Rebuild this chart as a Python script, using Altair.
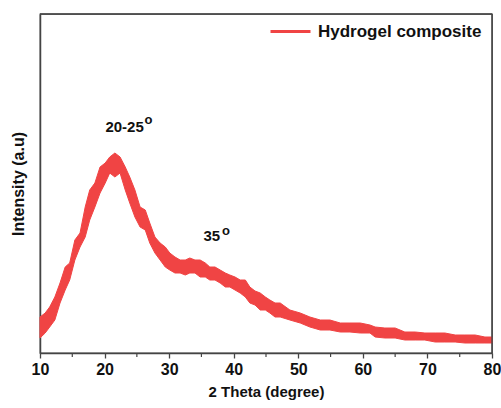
import altair as alt
import pandas as pd

# Values (2θ in degrees, intensity in arbitrary units,
# upper and lower edge of the noisy trace)
two_theta = [10.0, 10.8, 11.5, 12.3, 13.1, 13.9, 14.6, 15.4, 16.2, 17.0, 17.7, 18.5,
             19.3, 20.1, 20.8, 21.6, 22.4, 23.2, 23.9, 24.7, 25.5, 26.3, 27.0, 27.8,
             28.6, 29.4, 30.1, 30.9, 31.7, 32.5, 33.2, 34.0, 34.8, 35.6, 36.3, 37.1,
             37.9, 38.7, 39.4, 40.2, 41.0, 41.8, 42.5, 43.3, 44.1, 44.9, 45.6, 46.4,
             47.2, 48.7, 50.3, 51.8, 53.4, 54.9, 56.5, 58.0, 59.6, 61.1, 61.9, 63.4,
             65.0, 66.5, 68.1, 69.6, 71.2, 72.7, 74.3, 75.8, 77.4, 78.9, 80.0]
upper = [36, 40, 46, 56, 70, 86, 90, 113, 120, 146, 163, 170,
         186, 190, 196, 200, 196, 186, 176, 163, 146, 143, 130, 116,
         110, 106, 100, 96, 93, 93, 95, 93, 93, 90, 86, 86,
         83, 80, 78, 76, 73, 73, 66, 62, 60, 56, 53, 50,
         50, 43, 40, 36, 33, 33, 30, 30, 30, 28, 26, 25,
         25, 21, 21, 20, 20, 20, 18, 18, 18, 16, 16]
lower = [15, 20, 26, 33, 50, 63, 73, 93, 106, 116, 133, 146,
         160, 170, 180, 176, 180, 163, 150, 136, 126, 123, 110, 100,
         93, 86, 83, 80, 80, 78, 80, 80, 76, 76, 73, 73,
         70, 66, 66, 63, 60, 56, 50, 48, 43, 43, 40, 36,
         36, 33, 30, 26, 23, 23, 21, 21, 20, 20, 16, 15,
         15, 13, 13, 13, 11, 11, 11, 10, 10, 10, 10]
series_name = "Hydrogel composite"

major_ticks = [10, 20, 30, 40, 50, 60, 70, 80]
minor_ticks = [15, 25, 35, 45, 55, 65, 75]

ann_text = ["20-25", "o", "35", "o"]
ann_x = [23.1, 26.8, 36.6, 38.8]
ann_y = [226, 233, 117, 122]
ann_size = [15, 13, 15, 13]

RED = "#f04444"
FRAME = "#444"

df = pd.DataFrame({"two_theta": two_theta, "upper": upper, "lower": lower,
                   "series": series_name})
ann = pd.DataFrame({"text": ann_text, "x": ann_x, "y": ann_y, "size": ann_size})

xscale = alt.Scale(domain=[10, 80], nice=False, zero=False)
yscale = alt.Scale(domain=[0, 339], nice=False, zero=False)

band = alt.Chart(df).mark_area(strokeWidth=1.0, interpolate="linear").encode(
    x=alt.X("two_theta:Q", scale=xscale,
            axis=alt.Axis(title="2 Theta (degree)", values=major_ticks,
                          grid=False, tickSize=5, tickColor=FRAME, tickWidth=1.3,
                          domainColor=FRAME, domainWidth=1.5,
                          labelFont="Liberation Sans", labelFontWeight="bold",
                          labelFontSize=16, labelColor="#111", labelPadding=3,
                          labelFlush=False,
                          titleFont="Liberation Sans", titleFontWeight="bold",
                          titleFontSize=15, titleColor="#111", titlePadding=7)),
    y=alt.Y("upper:Q", scale=yscale,
            axis=alt.Axis(title="Intensity (a.u)", labels=False, ticks=False, grid=False,
                          domainColor=FRAME, domainWidth=1.5,
                          titleFont="Liberation Sans", titleFontWeight="bold",
                          titleFontSize=16, titleColor="#111", titlePadding=14)),
    y2="lower:Q",
    color=alt.Color("series:N", scale=alt.Scale(range=[RED]),
                    legend=alt.Legend(title=None, orient="none", legendX=229, legendY=-4,
                                      symbolType="stroke", symbolSize=1600,
                                      symbolStrokeWidth=3, symbolStrokeColor=RED,
                                      labelFont="Liberation Sans", labelFontWeight="bold",
                                      labelFontSize=17, labelColor="#111",
                                      labelOffset=6, labelLimit=400, padding=0)),
    stroke=alt.value(RED),
)

minor = alt.Chart(pd.DataFrame({"t": minor_ticks})).mark_rule(
    color=FRAME, strokeWidth=1.2
).encode(x=alt.X("t:Q", scale=xscale), y=alt.value(339), y2=alt.value(343))

# top and right sides of the plot frame
frame_top = alt.Chart(pd.DataFrame({"k": [0]})).mark_rule(
    color=FRAME, strokeWidth=1.3
).encode(x=alt.value(0), x2=alt.value(452), y=alt.value(0))
frame_right = alt.Chart(pd.DataFrame({"k": [0]})).mark_rule(
    color=FRAME, strokeWidth=1.3
).encode(x=alt.value(452), y=alt.value(0), y2=alt.value(339))

labels = alt.Chart(ann).mark_text(font="Liberation Sans", fontWeight="bold",
                                  color="#111").encode(
    x=alt.X("x:Q", scale=xscale),
    y=alt.Y("y:Q", scale=yscale),
    text="text:N",
    size=alt.Size("size:Q", scale=None, legend=None),
)

chart = alt.layer(band, minor, frame_top, frame_right, labels).properties(
    width=452, height=339,
    autosize=alt.AutoSizeParams(type="none"),
    padding={"left": 40, "top": 14, "right": 9, "bottom": 55},
    background="white",
).configure_view(stroke=FRAME, strokeWidth=1.3)

chart.save("out.html", embed_options={"renderer": "svg", "actions": False})
